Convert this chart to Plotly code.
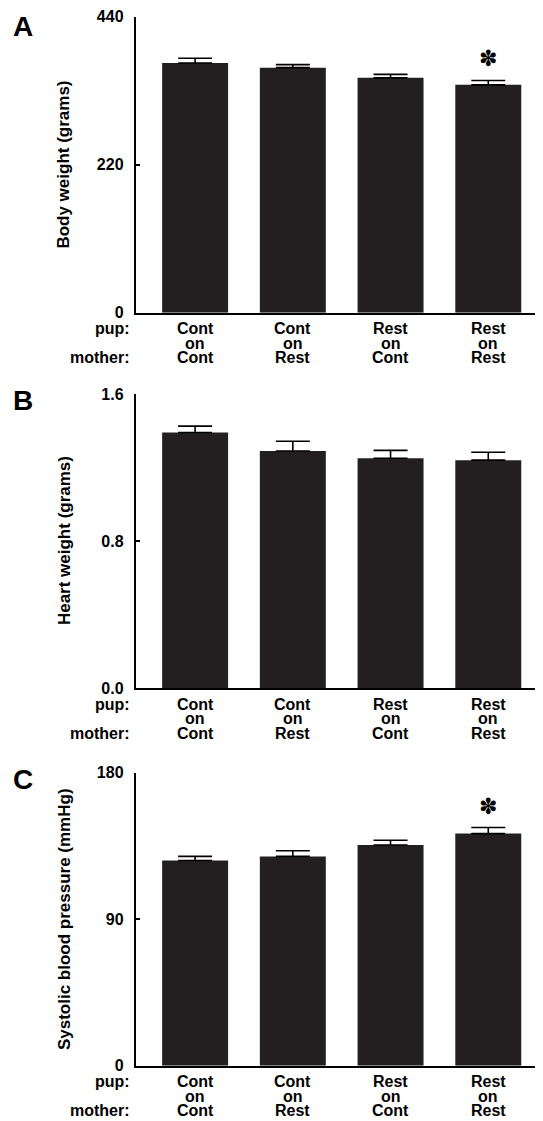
import plotly.graph_objects as go

# ---- data ----
categories = ["Cont|Cont", "Cont|Rest", "Rest|Cont", "Rest|Rest"]
pup_labels = ["Cont", "Cont", "Rest", "Rest"]
mother_labels = ["Cont", "Rest", "Cont", "Rest"]

body_weight = [371, 364, 349, 338.5]
body_weight_se = [7, 4.5, 5, 6.5]

heart_weight = [1.39, 1.29, 1.25, 1.24]
heart_weight_se = [0.035, 0.053, 0.043, 0.043]

sbp = [126, 128.5, 135.5, 142.5]
sbp_se = [2.5, 3.5, 2.9, 3.7]

panels = [
    dict(letter="A", title="Body weight (grams)", vals=body_weight, se=body_weight_se,
         rng=[0, 440], tickvals=[0, 220, 440], ticktext=["0", "220", "440"], star=[False, False, False, True]),
    dict(letter="B", title="Heart weight (grams)", vals=heart_weight, se=heart_weight_se,
         rng=[0, 1.6], tickvals=[0, 0.8, 1.6], ticktext=["0.0", "0.8", "1.6"], star=[False, False, False, False]),
    dict(letter="C", title="Systolic blood pressure (mmHg)", vals=sbp, se=sbp_se,
         rng=[0, 180], tickvals=[0, 90, 180], ticktext=["0", "90", "180"], star=[False, False, False, True]),
]

# page body has an 8px margin, so the figure is offset by 8px
OFF = 8
W, H = 543 - OFF, 1121 - OFF
# reference pixel positions (top, bottom) of each plot area
ref_pix = [(16.5, 312.7), (393.9, 688.3), (772.5, 1065.7)]
ref_x0 = 135.5
letter_ref_top = [9, 383, 762]

FONT = "Liberation Sans, Arial, sans-serif"
BAR = "#231f20"
LBL = 16

fig = go.Figure()
annotations = []
layout = dict(width=W, height=H, autosize=False, margin=dict(l=0, r=0, t=0, b=0, pad=0, autoexpand=False),
              paper_bgcolor="white", plot_bgcolor="white", showlegend=False,
              font=dict(family=FONT, size=LBL, color="black"))

x0 = ref_x0 - OFF
for i, p in enumerate(panels):
    n = "" if i == 0 else str(i + 1)
    xa, ya = "x" + n, "y" + n
    top, bot = ref_pix[i][0] - OFF, ref_pix[i][1] - OFF
    fig.add_trace(go.Bar(
        x=list(range(len(categories))), y=p["vals"], xaxis=xa, yaxis=ya,
        marker=dict(color=BAR, line=dict(width=0)), width=0.675,
        error_y=dict(type="data", symmetric=False, array=p["se"], arrayminus=[0] * 4,
                     color="black", thickness=1.6, width=17),
        hoverinfo="skip"))
    layout["xaxis" + n] = dict(domain=[x0 / W, 1], range=[-0.61, 3.56], anchor=ya,
                               showline=True, linecolor="black", linewidth=1.5,
                               showticklabels=False, ticks="", showgrid=False, zeroline=False,
                               automargin=False, fixedrange=True)
    layout["yaxis" + n] = dict(domain=[1 - bot / H, 1 - top / H], range=p["rng"], anchor=xa,
                               showline=True, linecolor="black", linewidth=1.5,
                               tickvals=p["tickvals"], ticktext=p["ticktext"],
                               ticks="inside", ticklen=5, tickwidth=1.5, tickcolor="black",
                               tickfont=dict(family=FONT, size=LBL, color="black", weight="bold"),
                               ticklabelstandoff=7, ticklabeloverflow="allow", automargin=False,
                               showgrid=False, zeroline=False, fixedrange=True)
    # panel letter
    annotations.append(dict(text="<b>%s</b>" % p["letter"], xref="paper", yref="paper",
                            x=(11 - OFF) / W, y=1 - max(letter_ref_top[i] - OFF, 0) / H,
                            xanchor="left", yanchor="top",
                            showarrow=False, font=dict(family=FONT, size=28, color="black")))
    # y title
    annotations.append(dict(text="<b>%s</b>" % p["title"], xref=xa + " domain", yref=ya + " domain",
                            x=0, y=0.5, xanchor="center", yanchor="middle", xshift=-71.5,
                            textangle=-90, showarrow=False,
                            font=dict(family=FONT, size=17, color="black")))
    # row labels
    for txt, sh in (("pup:", -16), ("mother:", -45)):
        annotations.append(dict(text="<b>%s</b>" % txt, xref=xa + " domain", yref=ya,
                                x=0, y=0, xanchor="right", yanchor="middle", xshift=-4, yshift=sh,
                                showarrow=False, font=dict(family=FONT, size=LBL, color="black")))
    for k in range(len(categories)):
        for txt, sh in ((pup_labels[k], -16), ("on", -30.5), (mother_labels[k], -45)):
            annotations.append(dict(text="<b>%s</b>" % txt, xref=xa, yref=ya, x=k, y=0,
                                    xanchor="center", yanchor="middle", yshift=sh,
                                    showarrow=False, font=dict(family=FONT, size=LBL, color="black")))
        if p["star"][k]:
            annotations.append(dict(text="✽", xref=xa, yref=ya, x=k, y=p["vals"][k] + p["se"][k],
                                    xanchor="center", yanchor="bottom", yshift=7,
                                    showarrow=False, font=dict(family="DejaVu Sans", size=22, color="black")))

layout["annotations"] = annotations
fig.update_layout(**layout)
fig.write_html("out.html")
